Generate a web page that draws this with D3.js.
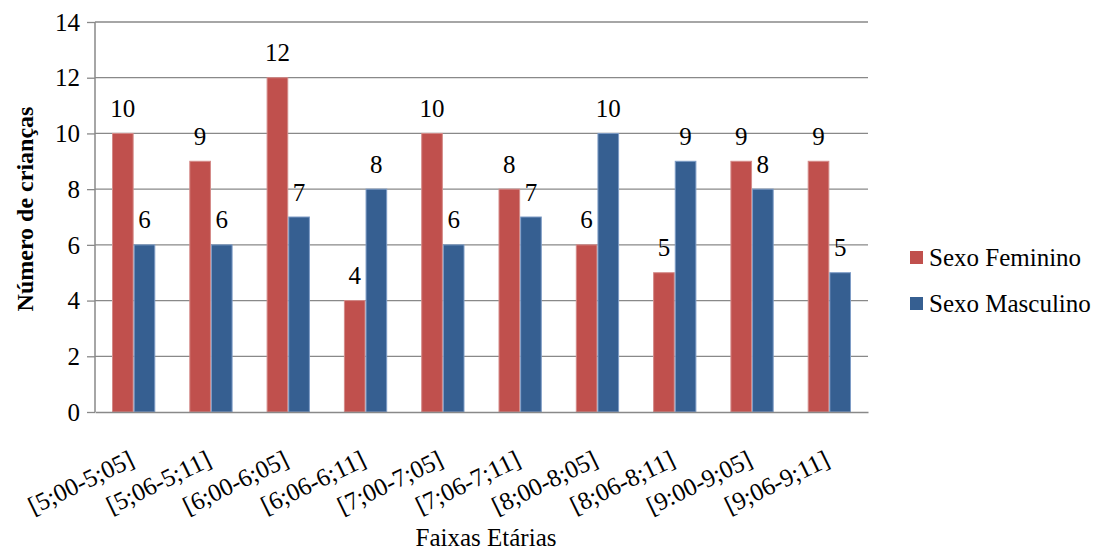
<!DOCTYPE html>
<html>
<head>
<meta charset="utf-8">
<script src="https://cdn.jsdelivr.net/npm/d3@7"></script>
<style>
  html, body { margin: 0; padding: 0; background: #fff; }
</style>
</head>
<body>
<svg id="chart" width="1109" height="551" font-family="Liberation Serif"></svg>
<script>
// Age groups (years;months) and number of children per sex
const categories = ["[5;00-5;05]", "[5;06-5;11]", "[6;00-6;05]", "[6;06-6;11]", "[7;00-7;05]",
                    "[7;06-7;11]", "[8;00-8;05]", "[8;06-8;11]", "[9:00-9;05]", "[9;06-9;11]"];
const feminino  = [10, 9, 12, 4, 10, 8, 6, 5, 9, 9];
const masculino = [6, 6, 7, 8, 6, 7, 10, 9, 8, 5];
const seriesNames = ["Sexo Feminino", "Sexo Masculino"];
const yTicks = [0, 2, 4, 6, 8, 10, 12, 14];

const FONT = "Liberation Serif";
const colors = { fill: ["#C0504D", "#365F91"], edge: ["#D48A88", "#7E9CC6"] };

const svg = d3.select("#chart");
const plot = { left: 95, right: 868, top: 22, bottom: 412 };

const x0 = d3.scaleBand().domain(categories).range([plot.left, plot.right]).paddingInner(0).paddingOuter(0);
const groupPad = 0.22;
const x1 = d3.scaleBand().domain([0, 1])
  .range([x0.bandwidth() * groupPad, x0.bandwidth() * (1 - groupPad)]);
const y = d3.scaleLinear().domain([0, 14]).range([plot.bottom, plot.top]);

// horizontal gridlines
svg.append("g").selectAll("line").data(yTicks.filter(d => d > 0)).join("line")
  .attr("x1", plot.left).attr("x2", plot.right)
  .attr("y1", d => y(d)).attr("y2", d => y(d))
  .attr("stroke", "#898989").attr("stroke-width", 1.3);

// y axis
const yAxis = d3.axisLeft(y).tickValues(yTicks).tickSize(8).tickPadding(7);
const gy = svg.append("g").attr("transform", `translate(${plot.left},0)`).call(yAxis)
  .attr("font-family", FONT).attr("font-size", 25);
gy.select(".domain").attr("stroke", "#898989").attr("stroke-width", 1.5).attr("d", `M0,${plot.top}V${plot.bottom}`);
gy.selectAll(".tick line").attr("stroke", "#898989").attr("stroke-width", 1.3);
gy.selectAll(".tick text").attr("font-family", FONT).attr("font-size", 25).attr("fill", "#000").attr("dy", "0.33em");

// bars and value labels
const series = [feminino, masculino];
const groups = svg.append("g").selectAll("g").data(categories).join("g")
  .attr("transform", d => `translate(${x0(d)},0)`);

series.forEach((vals, si) => {
  groups.append("rect")
    .attr("x", x1(si) + 0.5)
    .attr("width", x1.bandwidth() - 1)
    .attr("y", (d, i) => y(vals[i]))
    .attr("height", (d, i) => y(0) - y(vals[i]))
    .attr("fill", colors.fill[si])
    .attr("stroke", colors.edge[si]).attr("stroke-width", 1);
  groups.append("text")
    .attr("x", x1(si) + x1.bandwidth() / 2)
    .attr("y", (d, i) => y(vals[i]) - 16.5)
    .attr("text-anchor", "middle")
    .attr("font-family", FONT).attr("font-size", 25)
    .text((d, i) => vals[i]);
});

// x axis with slanted category labels
const xAxis = d3.axisBottom(x0).tickSize(0).tickPadding(0);
const gx = svg.append("g").attr("transform", `translate(0,${plot.bottom})`).call(xAxis)
  .attr("font-family", FONT).attr("font-size", 25);
gx.select(".domain").attr("stroke", "#898989").attr("stroke-width", 1.5);
gx.selectAll(".tick text")
  .attr("font-family", FONT).attr("font-size", 25).attr("fill", "#000")
  .attr("text-anchor", "end")
  .attr("dy", "0").attr("y", 0).attr("x", 0)
  .attr("transform", "translate(2,53) rotate(-26)");

// axis titles
svg.append("text")
  .attr("transform", `translate(33,${(plot.top + plot.bottom) / 2 - 8}) rotate(-90)`)
  .attr("text-anchor", "middle")
  .attr("font-family", FONT).attr("font-size", 24).attr("font-weight", "bold")
  .text("Número de crianças");

svg.append("text")
  .attr("x", 486).attr("y", 546)
  .attr("text-anchor", "middle")
  .attr("font-family", FONT).attr("font-size", 25)
  .text("Faixas Etárias");

// legend
const legend = svg.append("g").attr("transform", "translate(910,251)");
seriesNames.forEach((name, i) => {
  const g = legend.append("g").attr("transform", `translate(0,${i * 46})`);
  g.append("rect").attr("x", 0).attr("y", 0).attr("width", 13).attr("height", 13)
    .attr("fill", colors.fill[i]);
  g.append("text").attr("x", 19).attr("y", 15)
    .attr("font-family", FONT).attr("font-size", 25)
    .text(name);
});
</script>
</body>
</html>
